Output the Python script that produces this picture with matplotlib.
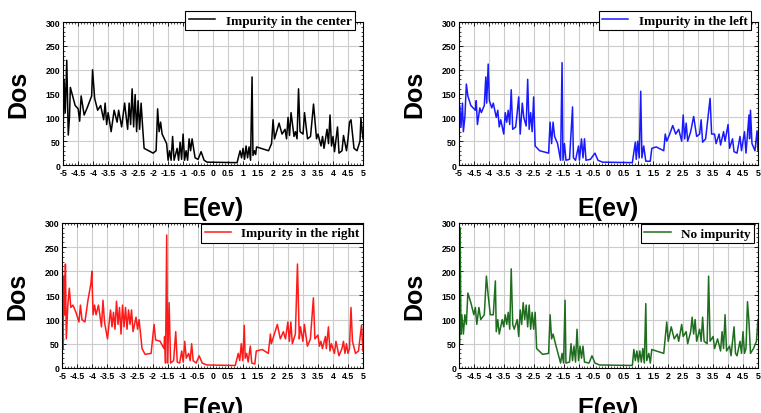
import matplotlib.pyplot as plt
from matplotlib.ticker import MultipleLocator

# energy / DOS points (impurity in the center)
e_center = [-5.0, -4.97, -4.93, -4.88, -4.83, -4.79, -4.76, -4.6, -4.5, -4.45, -4.4, -4.3, -4.2,
            -4.05, -4.02, -3.95, -3.85, -3.75, -3.65, -3.6, -3.55, -3.5, -3.4, -3.3, -3.2,
            -3.15, -3.05, -2.95, -2.85, -2.8, -2.75, -2.7, -2.65, -2.6, -2.55, -2.5, -2.45,
            -2.4, -2.35, -2.3, -2.0, -1.9, -1.85, -1.8, -1.75, -1.7, -1.55, -1.5, -1.45,
            -1.4, -1.35, -1.3, -1.2, -1.15, -1.1, -1.05, -1.0, -0.95, -0.9, -0.85, -0.8,
            -0.75, -0.7, -0.6, -0.5, -0.4, -0.3, -0.2, 0.8, 0.9, 0.95, 1.0, 1.05, 1.1, 1.15,
            1.2, 1.25, 1.3, 1.33, 1.38, 1.42, 1.45, 1.6, 1.85, 1.95, 2.0, 2.05, 2.2, 2.3,
            2.4, 2.45, 2.5, 2.55, 2.6, 2.7, 2.75, 2.8, 2.85, 2.9, 3.0, 3.05, 3.15, 3.25,
            3.35, 3.45, 3.5, 3.6, 3.65, 3.7, 3.8, 3.85, 3.9, 3.95, 4.0, 4.05, 4.15, 4.2,
            4.3, 4.35, 4.45, 4.5, 4.55, 4.6, 4.7, 4.8, 4.9, 4.93, 5.0]
dos_center = [75, 180, 110, 220, 63, 100, 163, 125, 118, 92, 145, 105, 120,
              145, 200, 140, 115, 125, 95, 130, 85, 110, 70, 115, 90,
              115, 80, 130, 75, 130, 85, 160, 80, 148, 70, 135, 75,
              130, 80, 35, 25, 30, 118, 70, 90, 65, 45, 10, 30,
              10, 60, 10, 35, 10, 48, 12, 65, 10, 30, 10, 55,
              30, 55, 15, 12, 28, 10, 6, 5, 30, 15, 35, 12, 40, 15,
              38, 10, 185, 20, 30, 22, 38, 35, 30, 45, 95, 55, 88, 65,
              75, 55, 100, 62, 110, 60, 70, 55, 160, 70, 65, 110, 55, 60,
              128, 55, 65, 40, 60, 35, 75, 45, 105, 40, 60, 28, 80, 25,
              30, 62, 30, 55, 90, 95, 35, 30, 50, 98, 55]

# impurity in the left
e_left = [-5.0, -4.97, -4.93, -4.88, -4.85, -4.8, -4.75, -4.7, -4.6, -4.45, -4.42, -4.38, -4.3,
          -4.25, -4.15, -4.1, -4.07, -4.02, -3.98, -3.9, -3.85, -3.75, -3.7, -3.65, -3.6,
          -3.5, -3.45, -3.4, -3.35, -3.3, -3.25, -3.2, -3.1, -3.05, -3.0, -2.95, -2.88,
          -2.83, -2.75, -2.7, -2.65, -2.6, -2.55, -2.5, -2.45, -2.3, -2.0, -1.95, -1.9,
          -1.85, -1.8, -1.7, -1.6, -1.55, -1.52, -1.47, -1.42, -1.3, -1.2, -1.17, -1.1,
          -1.0, -0.97, -0.9, -0.85, -0.8, -0.75, -0.6, -0.45, -0.35, -0.2, 0.8, 0.9, 0.93,
          0.98, 1.03, 1.08, 1.12, 1.18, 1.25, 1.4, 1.45, 1.6, 1.85, 1.9, 1.95, 2.05, 2.15,
          2.25, 2.35, 2.45, 2.5, 2.55, 2.6, 2.65, 2.75, 2.85, 2.95, 3.05, 3.1, 3.15, 3.25,
          3.4, 3.45, 3.55, 3.6, 3.7, 3.75, 3.85, 3.9, 4.0, 4.05, 4.15, 4.2, 4.3, 4.4, 4.45,
          4.55, 4.6, 4.7, 4.72, 4.75, 4.8, 4.9, 4.97, 5.0]
dos_left = [85, 125, 80, 130, 70, 100, 170, 145, 125, 115, 135, 85, 120,
            110, 125, 185, 130, 212, 135, 120, 130, 100, 115, 80, 95,
            65, 110, 90, 115, 85, 158, 75, 80, 110, 143, 65, 130,
            100, 82, 180, 75, 110, 70, 143, 40, 30, 25, 90, 45,
            90, 60, 45, 10, 215, 10, 45, 10, 12, 122, 15, 10,
            40, 10, 55, 15, 55, 10, 12, 25, 10, 6, 5, 48, 12,
            50, 15, 155, 15, 40, 8, 8, 35, 38, 30, 65, 50, 65, 83,
            65, 75, 50, 105, 55, 88, 50, 70, 102, 60, 65, 95, 48, 55,
            140, 65, 65, 45, 65, 42, 70, 50, 85, 35, 55, 28, 25, 60, 30,
            70, 25, 105, 55, 115, 45, 30, 72, 30]

# impurity in the right
e_right = [-5.0, -4.98, -4.95, -4.92, -4.9, -4.87, -4.82, -4.77, -4.72, -4.65, -4.55, -4.45, -4.4,
           -4.35, -4.25, -4.15, -4.05, -4.02, -3.98, -3.93, -3.88, -3.8, -3.7, -3.65, -3.6,
           -3.5, -3.4, -3.35, -3.3, -3.25, -3.2, -3.15, -3.1, -3.05, -3.0, -2.95, -2.9,
           -2.85, -2.8, -2.75, -2.7, -2.65, -2.55, -2.5, -2.45, -2.35, -2.25, -2.05, -1.95,
           -1.9, -1.75, -1.62, -1.6, -1.57, -1.53, -1.5, -1.45, -1.4, -1.3, -1.23, -1.18,
           -1.1, -1.03, -0.98, -0.93, -0.88, -0.8, -0.75, -0.7, -0.65, -0.55, -0.45, -0.35,
           -0.2, 0.75, 0.85, 0.9, 0.95, 1.0, 1.05, 1.08, 1.13, 1.18, 1.25, 1.3, 1.4, 1.45,
           1.65, 1.85, 1.92, 1.95, 2.05, 2.15, 2.25, 2.35, 2.42, 2.5, 2.55, 2.6, 2.65, 2.75,
           2.82, 2.88, 2.92, 3.0, 3.05, 3.15, 3.25, 3.35, 3.4, 3.5, 3.55, 3.6, 3.65, 3.75,
           3.78, 3.85, 3.9, 3.95, 4.05, 4.1, 4.2, 4.3, 4.35, 4.4, 4.45, 4.5, 4.55, 4.6, 4.65,
           4.75, 4.85, 4.95, 5.0]
dos_right = [205, 40, 190, 110, 215, 60, 130, 165, 125, 130, 115, 95, 130,
             100, 95, 140, 175, 200, 110, 130, 110, 130, 85, 140, 95,
             60, 120, 85, 115, 80, 138, 90, 125, 70, 130, 85, 125,
             80, 120, 90, 120, 75, 105, 80, 100, 40, 28, 30, 90,
             58, 55, 40, 65, 10, 275, 10, 135, 10, 15, 75, 12,
             10, 35, 12, 55, 20, 30, 15, 50, 15, 10, 25, 10,
             6, 5, 30, 15, 50, 15, 88, 20, 30, 12, 45, 10, 8, 35,
             38, 30, 70, 50, 70, 90, 60, 75, 60, 95, 55, 95, 50, 70,
             215, 60, 85, 55, 90, 45, 60, 145, 60, 68, 45, 55, 40, 65,
             40, 85, 35, 50, 30, 55, 25, 40, 55, 30, 50, 30, 40, 125, 55,
             30, 35, 88, 35]

# no impurity
e_none = [-5.0, -4.98, -4.96, -4.93, -4.9, -4.85, -4.8, -4.75, -4.7, -4.6, -4.5, -4.45, -4.4,
          -4.33, -4.27, -4.15, -4.08, -4.02, -3.95, -3.85, -3.78, -3.75, -3.7, -3.65, -3.55,
          -3.5, -3.45, -3.4, -3.35, -3.3, -3.25, -3.2, -3.15, -3.05, -3.0, -2.95, -2.9,
          -2.85, -2.8, -2.75, -2.7, -2.65, -2.6, -2.55, -2.5, -2.45, -2.4, -2.2, -2.0,
          -1.95, -1.9, -1.85, -1.75, -1.6, -1.55, -1.5, -1.45, -1.42, -1.3, -1.25, -1.2,
          -1.15, -1.1, -1.05, -1.0, -0.95, -0.9, -0.85, -0.8, -0.65, -0.55, -0.45, -0.3,
          0.8, 0.85, 0.9, 0.95, 1.0, 1.05, 1.1, 1.15, 1.2, 1.25, 1.28, 1.35, 1.4, 1.45,
          1.6, 1.85, 1.95, 2.0, 2.1, 2.2, 2.3, 2.35, 2.45, 2.5, 2.6, 2.65, 2.75, 2.8, 2.85,
          2.9, 2.95, 3.05, 3.1, 3.15, 3.2, 3.3, 3.35, 3.4, 3.5, 3.55, 3.65, 3.75, 3.8, 3.85,
          3.9, 3.95, 4.05, 4.1, 4.2, 4.25, 4.3, 4.4, 4.45, 4.5, 4.55, 4.6, 4.65, 4.7, 4.75,
          4.85, 4.95, 5.0]
dos_none = [175, 50, 290, 70, 110, 70, 110, 90, 155, 135, 110, 125, 90,
            125, 100, 110, 190, 150, 110, 110, 180, 75, 100, 70, 100,
            85, 110, 90, 115, 80, 205, 90, 80, 100, 65, 120, 90,
            135, 100, 130, 85, 130, 80, 115, 80, 115, 40, 28, 30,
            110, 60, 70, 45, 10, 30, 10, 140, 10, 12, 50, 15,
            45, 12, 80, 15, 45, 20, 45, 12, 10, 25, 10, 6,
            5, 38, 15, 35, 12, 35, 12, 40, 10, 133, 15, 30, 10, 38,
            35, 30, 95, 55, 85, 60, 70, 55, 90, 65, 75, 50, 75, 105, 70,
            100, 55, 80, 55, 105, 55, 50, 190, 55, 65, 40, 60, 35, 75, 40,
            110, 35, 45, 25, 85, 30, 25, 55, 30, 75, 30, 40, 137, 95, 30,
            40, 55, 100]

x_ticks = [-5, -4.5, -4, -3.5, -3, -2.5, -2, -1.5, -1, -0.5, 0, 0.5, 1, 1.5, 2, 2.5, 3, 3.5, 4, 4.5, 5]
x_tick_labels = ['-5', '-4.5', '-4', '-3.5', '-3', '-2.5', '-2', '-1.5', '-1', '-0.5', '0', '0.5',
                 '1', '1.5', '2', '2.5', '3', '3.5', '4', '4.5', '5']
y_ticks = [0, 50, 100, 150, 200, 250, 300]

panels = [
    (e_center, dos_center, 'black', 'Impurity in the center', [0.083, 0.599, 0.394, 0.345], (0.973, 1.077), 14),
    (e_left, dos_left, '#1a1aff', 'Impurity in the left', [0.603, 0.599, 0.393, 0.345], (0.977, 1.077), 14),
    (e_right, dos_right, '#ff1a1a', 'Impurity in the right', [0.082, 0.109, 0.395, 0.350], (1.0, 0.995), 12),
    (e_none, dos_none, '#1f6e1f', 'No impurity', [0.603, 0.109, 0.393, 0.350], (0.987, 0.99), 12),
]

fig = plt.figure(figsize=(7.61, 4.14), dpi=100)

for e, dos, color, label, pos, anchor, xpad in panels:
    ax = fig.add_axes(pos)
    ax.plot(e, dos, color=color, linewidth=1.1, label=label)
    ax.set_xlim(-5, 5)
    ax.set_ylim(0, 300)
    ax.set_xticks(x_ticks)
    ax.set_xticklabels(x_tick_labels)
    ax.set_yticks(y_ticks)
    ax.xaxis.set_minor_locator(MultipleLocator(0.1))
    ax.yaxis.set_minor_locator(MultipleLocator(10))
    ax.tick_params(which='both', direction='in', top=True, right=True)
    ax.tick_params(which='major', length=3, width=0.6, pad=2)
    ax.tick_params(which='minor', length=1.5, width=0.5)
    for lab in ax.get_xticklabels() + ax.get_yticklabels():
        lab.set_fontfamily('Liberation Sans')
        lab.set_fontweight('bold')
        lab.set_fontsize(6.3)
    ax.grid(True, color='#cccccc', linewidth=0.8)
    ax.set_axisbelow(True)
    for sp in ax.spines.values():
        sp.set_linewidth(0.8)
    ax.set_xlabel('E(ev)', fontsize=18, fontweight='bold', family='Liberation Sans', labelpad=xpad)
    ax.set_ylabel('Dos', fontsize=18, fontweight='bold', family='Liberation Sans', labelpad=11)
    leg = ax.legend(loc='upper right', bbox_to_anchor=anchor, borderaxespad=0, fancybox=False,
                    edgecolor='black', framealpha=1, handlelength=2.0, borderpad=0.25,
                    prop={'family': 'Liberation Serif', 'weight': 'bold', 'size': 9.5})
    leg.get_frame().set_linewidth(0.8)

fig.savefig('out.png', dpi=100)
